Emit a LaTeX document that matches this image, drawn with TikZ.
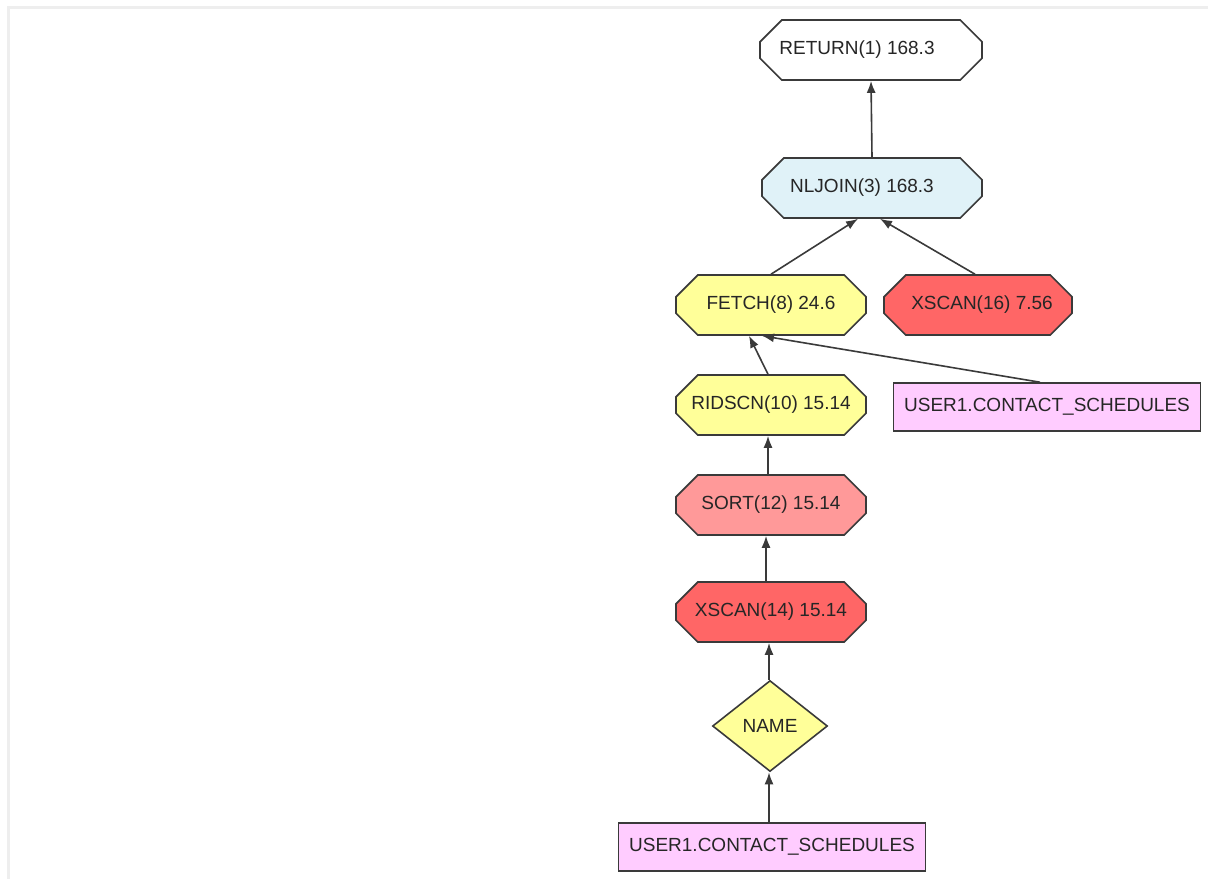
\documentclass[tikz,border=0pt]{standalone}
\usepackage{fontspec}
\setmainfont{Liberation Sans}
\usetikzlibrary{arrows.meta, shapes.misc, shapes.geometric, calc}
\definecolor{pBlue}{HTML}{E0F2F8}
\definecolor{pYellow}{HTML}{FFFF99}
\definecolor{pRed}{HTML}{FF6666}
\definecolor{pSalmon}{HTML}{FF9999}
\definecolor{pPink}{HTML}{FFCCFF}
\definecolor{pEdge}{HTML}{3A3A3A}
\definecolor{pFrame}{HTML}{EEEEEE}
\begin{document}
\begin{tikzpicture}[x=0.5pt, y=-0.5pt,
      every node/.style={font=\fontsize{9.5}{11}\selectfont, text=black!85},
      op/.style={chamfered rectangle, chamfered rectangle xsep=6.5pt,
        chamfered rectangle ysep=6.5pt, draw=pEdge, line width=0.8pt,
        minimum width=95pt, minimum height=30pt, inner sep=0pt},
      tbl/.style={rectangle, draw=pEdge, line width=0.8pt, fill=pPink,
        minimum width=153.5pt, minimum height=24pt, inner sep=0pt},
      pr/.style={diamond, draw=pEdge, line width=0.8pt, fill=pYellow,
        minimum width=57.5pt, minimum height=45.5pt, inner sep=0pt},
      e/.style={-{Latex[length=6pt, width=4.5pt]}, pEdge, line width=0.8pt}]
    \useasboundingbox (0,0) rectangle (1208,879);
    \draw[pFrame, line width=1.5pt] (8.5,879) -- (8.5,7) -- (1208,7);
    % operators
    \node[op, fill=white, minimum width=111pt] (ret)    at (871,50)  {RETURN(1) 168.3\hspace*{14pt}};
    \node[op, fill=pBlue, minimum width=110pt] (nljoin) at (872,188) {NLJOIN(3) 168.3\hspace*{10pt}};
    \node[op, fill=pYellow]                    (fetch)  at (771,305) {FETCH(8) 24.6};
    \node[op, fill=pRed, minimum width=94pt]   (xscanb) at (978,305) {\hspace*{4pt}XSCAN(16) 7.56};
    \node[op, fill=pYellow]                    (ridscn) at (771,405) {RIDSCN(10) 15.14};
    \node[op, fill=pSalmon]                    (sort)   at (771,505) {SORT(12) 15.14};
    \node[op, fill=pRed]                       (xscana) at (771,612) {XSCAN(14) 15.14};
    \node[pr]                                  (name)   at (770,726) {NAME};
    % tables
    \node[tbl]                                 (tabr)   at (1047,407) {USER1.CONTACT\_SCHEDULES};
    \node[tbl]                                 (tabb)   at (772,847)  {USER1.CONTACT\_SCHEDULES};
    % edges
    \draw[e] (nljoin.north) -- (ret.south);
    \draw[e] (fetch.north) -- ($(nljoin.south)+(-14,0)$);
    \draw[e] ($(xscanb.north)+(-3,0)$) -- ($(nljoin.south)+(8,0)$);
    \draw[e] ($(ridscn.north)+(-3,0)$) -- ($(fetch.south)+(-22,0)$);
    \draw[e] ($(tabr.north)+(-7,0)$) -- ($(fetch.south)+(-9,0)$);
    \draw[e] ($(sort.north)+(-3,0)$) -- ($(ridscn.south)+(-3,0)$);
    \draw[e] ($(xscana.north)+(-5,0)$) -- ($(sort.south)+(-5,0)$);
    \draw[e] ($(name.north)+(-1,0)$) -- ($(xscana.south)+(-2,0)$);
    \draw[e] ($(tabb.north)+(-3,0)$) -- ($(name.south)+(-1,0)$);
\end{tikzpicture}
\end{document}
